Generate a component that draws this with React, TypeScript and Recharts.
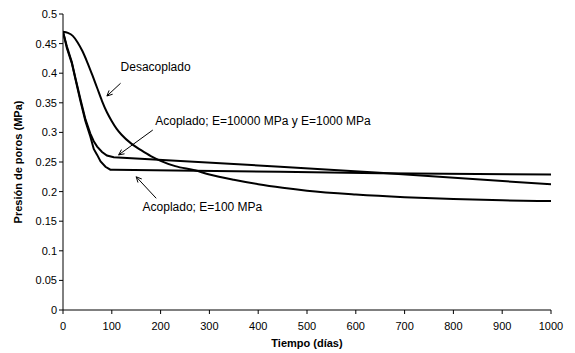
import React from "react";
import {
  LineChart,
  Line,
  XAxis,
  YAxis,
  Label,
  ReferenceLine,
  ReferenceDot,
} from "recharts";

// Presión de poros vs tiempo, tres curvas
const X_TICKS = [0, 100, 200, 300, 400, 500, 600, 700, 800, 900, 1000];
const Y_TICKS = [0, 0.05, 0.1, 0.15, 0.2, 0.25, 0.3, 0.35, 0.4, 0.45, 0.5];

const DESACOPLADO_T = [0, 10, 20, 30, 40, 50, 60, 70, 80, 90, 100, 110, 120, 140, 160, 180, 200, 230, 270, 300, 350, 400, 450, 500, 600, 700, 800, 900, 1000];
const DESACOPLADO_P = [0.47, 0.468, 0.463, 0.452, 0.437, 0.418, 0.397, 0.375, 0.353, 0.334, 0.319, 0.306, 0.296, 0.281, 0.27, 0.26, 0.252, 0.243, 0.236, 0.229, 0.22, 0.2125, 0.2065, 0.2015, 0.195, 0.1905, 0.1875, 0.1852, 0.184];

const ACOPLADO_10000_T = [0, 8, 18, 26, 36, 46, 56, 63, 70, 80, 90, 104, 445, 649, 1000];
const ACOPLADO_10000_P = [0.47, 0.445, 0.419, 0.39, 0.355, 0.322, 0.298, 0.285, 0.276, 0.267, 0.261, 0.258, 0.242, 0.232, 0.2123];

const ACOPLADO_100_T = [0, 8, 18, 26, 36, 46, 56, 63, 70, 77, 87, 97, 104, 445, 649, 1000];
const ACOPLADO_100_P = [0.47, 0.442, 0.417, 0.388, 0.352, 0.319, 0.293, 0.272, 0.262, 0.251, 0.242, 0.237, 0.237, 0.2336, 0.231, 0.229];

const toRows = (t: number[], p: number[]) => t.map((x, i) => ({ t: x, p: p[i] }));

const FONT = "'Liberation Sans', Arial, sans-serif";

// anotaciones: texto y flecha (en coordenadas de datos)
const NOTES = [
  { text: "Desacoplado", t: 118, p: 0.4105, from: { t: 118, p: 0.383 }, to: { t: 90, p: 0.3615 } },
  { text: "Acoplado; E=10000 MPa y E=1000 MPa", t: 189, p: 0.32, from: { t: 184, p: 0.304 }, to: { t: 114, p: 0.262 } },
  { text: "Acoplado; E=100 MPa", t: 163, p: 0.1745, from: { t: 191, p: 0.1887 }, to: { t: 150, p: 0.225 } },
];

const Arrow = (props: any) => {
  const { x1, y1, x2, y2 } = props;
  const a = Math.atan2(y2 - y1, x2 - x1);
  const len = 6;
  const w = 0.45;
  const p1 = [x2 - len * Math.cos(a - w), y2 - len * Math.sin(a - w)];
  const p2 = [x2 - len * Math.cos(a + w), y2 - len * Math.sin(a + w)];
  return (
    <g stroke="#000" strokeWidth={1} fill="none">
      <line x1={x1} y1={y1} x2={x2} y2={y2} />
      <polyline points={`${p1[0]},${p1[1]} ${x2},${y2} ${p2[0]},${p2[1]}`} />
    </g>
  );
};

const NoteText = (text: string) => (props: any) => (
  <text
    x={props.cx}
    y={props.cy}
    dominantBaseline="central"
    textAnchor="start"
    fontFamily={FONT}
    fontSize={12}
    fill="#000"
  >
    {text}
  </text>
);

export default function App() {
  const tick = { fontFamily: FONT, fontSize: 11, fill: "#000" };
  return (
    <LineChart width={559} height={345} margin={{ top: 6, right: 16, bottom: 13, left: 0 }}>
      <XAxis
        type="number"
        dataKey="t"
        domain={[0, 1000]}
        ticks={X_TICKS}
        tick={tick}
        tickSize={4}
        tickMargin={8}
        axisLine={{ stroke: "#000" }}
        tickLine={{ stroke: "#000" }}
        height={30}
        allowDataOverflow
      >
        <Label value="Tiempo (días)" position="insideBottom" offset={-7} style={{ fontFamily: FONT, fontSize: 11, fontWeight: "bold", fill: "#000" }} />
      </XAxis>
      <YAxis
        type="number"
        domain={[0, 0.5]}
        ticks={Y_TICKS}
        tick={tick}
        tickSize={4}
        tickMargin={2}
        axisLine={{ stroke: "#000" }}
        tickLine={{ stroke: "#000" }}
        width={55}
        allowDataOverflow
      >
        <Label value="Presión de poros (MPa)" angle={-90} position="insideLeft" offset={10} style={{ textAnchor: "middle", fontFamily: FONT, fontSize: 11, fontWeight: "bold", fill: "#000" }} />
      </YAxis>
      <Line data={toRows(DESACOPLADO_T, DESACOPLADO_P)} dataKey="p" type="monotone" stroke="#000" strokeWidth={2} dot={false} isAnimationActive={false} />
      <Line data={toRows(ACOPLADO_10000_T, ACOPLADO_10000_P)} dataKey="p" type="linear" stroke="#000" strokeWidth={2} dot={false} isAnimationActive={false} />
      <Line data={toRows(ACOPLADO_100_T, ACOPLADO_100_P)} dataKey="p" type="linear" stroke="#000" strokeWidth={2} dot={false} isAnimationActive={false} />
      {NOTES.map((n, i) => (
        <ReferenceLine
          key={`a${i}`}
          segment={[{ x: n.from.t, y: n.from.p }, { x: n.to.t, y: n.to.p }]}
          shape={Arrow}
        />
      ))}
      {NOTES.map((n, i) => (
        <ReferenceDot key={`t${i}`} x={n.t} y={n.p} r={0} shape={NoteText(n.text)} />
      ))}
    </LineChart>
  );
}
